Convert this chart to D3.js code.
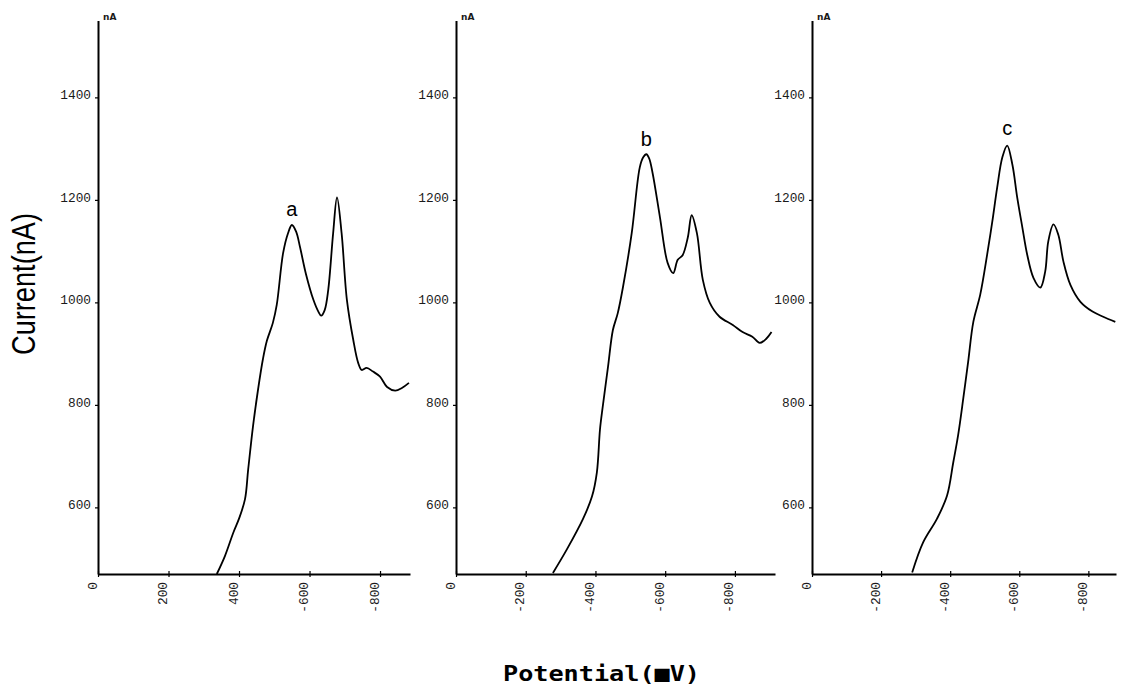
<!DOCTYPE html>
<html>
<head>
<meta charset="utf-8">
<script src="https://cdn.jsdelivr.net/npm/d3@7"></script>
<style>
  html, body { margin: 0; padding: 0; background: #fff; }
  svg { display: block; }
</style>
</head>
<body>
<svg id="chart" width="1122" height="689"></svg>
<script>
// Voltammogram a: potential (mV) and current (nA)
const potentialA = [-337,-360,-384,-400,-417,-426,-440,-454,-468,-479,-496,-507,-525,-539,-550,-562,-573,-590,-611,-625,-633,-643,-653,-667,-678,-691,-706,-724,-738,-748,-762,-780,-800,-820,-843,-862,-882];
const currentA   = [470,505,551,578,616,674,760,830,890,925,960,995,1096,1135,1151,1138,1108,1055,1005,982,974,985,1024,1135,1205,1135,1005,927,882,868,872,865,855,835,828,833,843];

// Voltammogram b
const potentialB = [-278,-318,-364,-390,-404,-413,-421,-436,-450,-464,-479,-504,-527,-537,-546,-554,-564,-585,-607,-623,-636,-650,-665,-676,-691,-708,-728,-756,-794,-822,-850,-871,-890,-905];
const currentB   = [472,518,577,621,668,752,797,874,946,979,1030,1135,1263,1283,1289,1281,1252,1166,1077,1057,1083,1092,1127,1170,1135,1044,999,972,956,942,933,921,929,942];

// Voltammogram c
const potentialC = [-290,-322,-362,-391,-409,-423,-438,-452,-467,-487,-507,-522,-536,-551,-565,-580,-594,-609,-623,-641,-661,-675,-684,-699,-713,-728,-748,-777,-812,-843,-878];
const currentC   = [473,532,578,623,688,741,813,884,962,1015,1093,1158,1224,1283,1306,1269,1205,1146,1093,1048,1029,1060,1119,1152,1132,1079,1034,1001,982,972,962];

// Axis ticks and their printed labels
const currentTicks = [600, 800, 1000, 1200, 1400];
const potentialTicks = [0, -200, -400, -600, -800];
const potentialTickLabelsA = ["0", "200", "400", "-600", "-800"];
const potentialTickLabelsBC = ["0", "-200", "-400", "-600", "-800"];
const panelNames = ["a", "b", "c"];
// Potential of the peak each letter marks
const labelledPeaks = [-550, -546, -565];
const currentDomain = [470, 1550];

// Panel layout (pixel placement of each small plot)
const panels = [
  { name: panelNames[0], peak: labelledPeaks[0], pot: potentialA, cur: currentA, labels: potentialTickLabelsA,  xRange: [98, 410],  xEnd: -885, dy: -9 },
  { name: panelNames[1], peak: labelledPeaks[1], pot: potentialB, cur: currentB, labels: potentialTickLabelsBC, xRange: [456, 775], xEnd: -915, dy: -8 },
  { name: panelNames[2], peak: labelledPeaks[2], pot: potentialC, cur: currentC, labels: potentialTickLabelsBC, xRange: [812, 1116], xEnd: -880, dy: -11 }
];

const svg = d3.select("#chart");
const y = d3.scaleLinear().domain(currentDomain).range([574, 20.5]);
const tickFont = "'Liberation Mono', 'DejaVu Sans Mono', monospace";

panels.forEach(p => {
  const x = d3.scaleLinear().domain([0, p.xEnd]).range(p.xRange);
  const g = svg.append("g");

  // Current axis
  const yAxis = g.append("g")
    .attr("transform", `translate(${x(0)},0)`)
    .call(d3.axisLeft(y).tickValues(currentTicks).tickFormat(d3.format("d"))
      .tickSizeInner(3).tickSizeOuter(0).tickPadding(4));
  yAxis.select(".domain").attr("stroke", "#000").attr("stroke-width", 2);
  yAxis.selectAll(".tick line").attr("stroke", "#000").attr("stroke-width", 1.2);
  yAxis.selectAll(".tick text")
    .attr("dy", "0.09em")
    .style("font-family", tickFont)
    .style("font-size", "12.8px")
    .attr("fill", "#1a1a1a");

  // Unit tag at the top of the current axis
  g.append("text")
    .attr("x", x(0) + 5)
    .attr("y", 20)
    .style("font-family", "'DejaVu Sans', sans-serif")
    .style("font-size", "9px")
    .style("font-weight", "bold")
    .attr("fill", "#1a1a1a")
    .text("nA");

  // Potential axis
  const xAxis = g.append("g")
    .attr("transform", `translate(0,${y(currentDomain[0])})`)
    .call(d3.axisBottom(x).tickValues(potentialTicks)
      .tickFormat((d, i) => p.labels[i])
      .tickSizeInner(3).tickSizeOuter(0).tickPadding(0));
  xAxis.select(".domain").attr("stroke", "#000").attr("stroke-width", 1.8);
  xAxis.selectAll(".tick line").attr("y1", -3).attr("stroke", "#000").attr("stroke-width", 1.2);
  xAxis.selectAll(".tick text")
    .attr("x", 0).attr("y", 0).attr("dy", 0)
    .attr("transform", "translate(-2,8) rotate(-90)")
    .attr("text-anchor", "end")
    .style("font-family", tickFont)
    .style("font-size", "12.8px")
    .attr("fill", "#1a1a1a");

  // Voltammogram trace
  const data = p.pot.map((v, i) => ({ e: v, c: p.cur[i] }));
  g.append("path")
    .datum(data)
    .attr("fill", "none")
    .attr("stroke", "#000")
    .attr("stroke-width", 1.8)
    .attr("stroke-linejoin", "round")
    .attr("d", d3.line().x(d => x(d.e)).y(d => y(d.c)).curve(d3.curveCatmullRom.alpha(0.5)));

  // Letter above the labelled peak
  const peak = data.find(d => d.e === p.peak);
  g.append("text")
    .attr("x", x(peak.e))
    .attr("y", y(peak.c) + p.dy)
    .attr("text-anchor", "middle")
    .style("font-family", "'Liberation Sans', Arial, sans-serif")
    .style("font-size", "20px")
    .attr("fill", "#000")
    .text(p.name);
});

// Axis titles
svg.append("text")
  .attr("transform", "translate(35,284) rotate(-90)")
  .attr("text-anchor", "middle")
  .attr("textLength", 142)
  .attr("lengthAdjust", "spacingAndGlyphs")
  .style("font-family", "'Liberation Sans Narrow', 'Liberation Sans', Arial, sans-serif")
  .style("font-size", "34px")
  .attr("fill", "#000")
  .text("Current(nA)");

svg.append("text")
  .attr("x", 503)
  .attr("y", 681)
  .attr("textLength", 197)
  .attr("lengthAdjust", "spacingAndGlyphs")
  .style("font-family", "'DejaVu Sans Mono', 'Liberation Mono', monospace")
  .style("font-size", "22px")
  .style("font-weight", "bold")
  .attr("fill", "#000")
  .text("Potential(\u25A0V)");
</script>
</body>
</html>
